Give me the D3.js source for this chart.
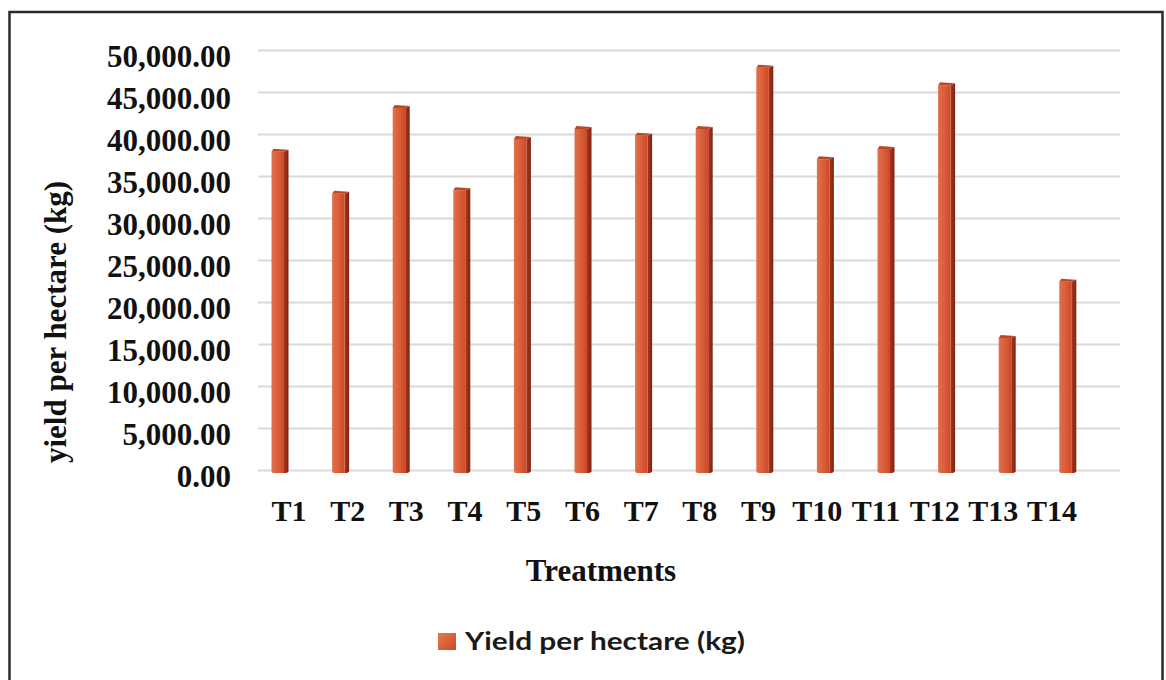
<!DOCTYPE html>
<html>
<head>
<meta charset="utf-8">
<script src="https://cdn.jsdelivr.net/npm/d3@7/dist/d3.min.js"></script>
<style>
  html, body { margin: 0; padding: 0; background: #fff; }
  svg { display: block; }
</style>
</head>
<body>
<svg id="chart" width="1166" height="680"></svg>
<script>
// Yield per hectare for each treatment
const treatments = ["T1","T2","T3","T4","T5","T6","T7","T8","T9","T10","T11","T12","T13","T14"];
const yieldKg = [37900, 32900, 43100, 33300, 39400, 40600, 39800, 40600, 47900, 37000, 38200, 45800, 15700, 22400];
const yTicks = [0, 5000, 10000, 15000, 20000, 25000, 30000, 35000, 40000, 45000, 50000];
const seriesName = "Yield per hectare (kg)";
const xTitle = "Treatments";
const yTitle = "yield per hectare (kg)";

const svg = d3.select("#chart");
const serif = "'Liberation Serif', 'Times New Roman', serif";

// gradients for the 3D column faces
const defs = svg.append("defs");
const front = defs.append("linearGradient").attr("id", "front").attr("x1", 0).attr("x2", 1).attr("y1", 0).attr("y2", 0);
front.append("stop").attr("offset", "0%").attr("stop-color", "#e0714b");
front.append("stop").attr("offset", "60%").attr("stop-color", "#d85a36");
front.append("stop").attr("offset", "100%").attr("stop-color", "#c9482a");
const side = defs.append("linearGradient").attr("id", "side").attr("x1", 0).attr("x2", 1).attr("y1", 0).attr("y2", 0);
side.append("stop").attr("offset", "0%").attr("stop-color", "#a8361b");
side.append("stop").attr("offset", "100%").attr("stop-color", "#7e2412");
const swatch = defs.append("linearGradient").attr("id", "swatch").attr("x1", 0).attr("x2", 1).attr("y1", 0).attr("y2", 1);
swatch.append("stop").attr("offset", "0%").attr("stop-color", "#e57a50");
swatch.append("stop").attr("offset", "100%").attr("stop-color", "#cf4a2b");

// outer frame
svg.append("rect")
  .attr("x", 9.5).attr("y", 12).attr("width", 1153).attr("height", 700)
  .attr("fill", "#fff").attr("stroke", "#2b2b2b").attr("stroke-width", 2.5);

// scales
const y = d3.scaleLinear().domain([0, 50000]).range([470, 50]);
const x = d3.scaleBand().domain(treatments).range([249.7, 1098.1]).padding(0);
// category labels sit on the projected floor, slightly narrower than the columns
const xLabel = d3.scaleBand().domain(treatments).range([259.6, 1081.4]).padding(0);

const gridLeft = 258, gridRight = 1120;

// gridlines
const grid = svg.append("g")
  .attr("transform", `translate(${gridLeft},0)`)
  .call(d3.axisRight(y).tickValues(yTicks).tickSize(gridRight - gridLeft).tickFormat(""));
grid.select(".domain").remove();
grid.selectAll(".tick line").attr("stroke", "#d9d9d9").attr("stroke-width", 2);

// y tick labels
const yAxis = svg.append("g")
  .attr("transform", "translate(231,0)")
  .call(d3.axisLeft(y).tickValues(yTicks).tickSize(0).tickPadding(0).tickFormat(d3.format(",.2f")));
yAxis.select(".domain").remove();
yAxis.selectAll("text")
  .attr("font-family", serif).attr("font-weight", "bold").attr("font-size", 31)
  .attr("fill", "#111").attr("y", 7);

// x tick labels
const xAxis = svg.append("g")
  .attr("transform", "translate(0,470)")
  .call(d3.axisBottom(xLabel).tickSize(0).tickPadding(30));
xAxis.select(".domain").remove();
xAxis.selectAll("text")
  .attr("font-family", serif).attr("font-weight", "bold").attr("font-size", 30)
  .attr("fill", "#111");

// columns: front face, side face and top cap
const frontW = 12.5, sideW = 4.5, capH = 3;
const bars = svg.append("g").selectAll("g").data(treatments).join("g");
bars.each(function(t, i) {
  const g = d3.select(this);
  const cx = x(t) + x.bandwidth() / 2;
  const x0 = cx - 8.5;
  const top = y(yieldKg[i]);
  const base = y(0) + 3;
  g.append("path")
    .attr("d", `M${x0 + frontW},${top} L${x0 + frontW + sideW},${top - capH + 1} L${x0 + frontW + sideW},${base - 2} Q${x0 + frontW + sideW},${base} ${x0 + frontW},${base} Z`)
    .attr("fill", "url(#side)");
  g.append("path")
    .attr("d", `M${x0},${top} L${x0 + frontW},${top} L${x0 + frontW},${base} L${x0 + 2},${base} Q${x0},${base} ${x0},${base - 2} Z`)
    .attr("fill", "url(#front)");
  g.append("path")
    .attr("d", `M${x0},${top} L${x0 + 2},${top - capH} L${x0 + frontW + sideW},${top - capH + 1} L${x0 + frontW},${top} Z`)
    .attr("fill", "#b9482a");
});

// axis titles
svg.append("text")
  .attr("transform", "translate(66,322) rotate(-90)")
  .attr("text-anchor", "middle")
  .attr("font-family", serif).attr("font-weight", "bold").attr("font-size", 31)
  .attr("fill", "#111")
  .text(yTitle);

svg.append("text")
  .attr("x", 601).attr("y", 581)
  .attr("text-anchor", "middle")
  .attr("font-family", serif).attr("font-weight", "bold").attr("font-size", 31)
  .attr("fill", "#111")
  .text(xTitle);

// legend
const legend = svg.append("g").attr("transform", "translate(438,633)");
legend.append("rect").attr("width", 18).attr("height", 17).attr("fill", "url(#swatch)");
legend.append("text")
  .attr("x", 27).attr("y", 17)
  .attr("font-family", "Lato, 'Open Sans', sans-serif").attr("font-weight", "bold").attr("font-size", 24)
  .attr("fill", "#1a1a1a")
  .attr("textLength", 280).attr("lengthAdjust", "spacingAndGlyphs")
  .text(seriesName);
</script>
</body>
</html>
